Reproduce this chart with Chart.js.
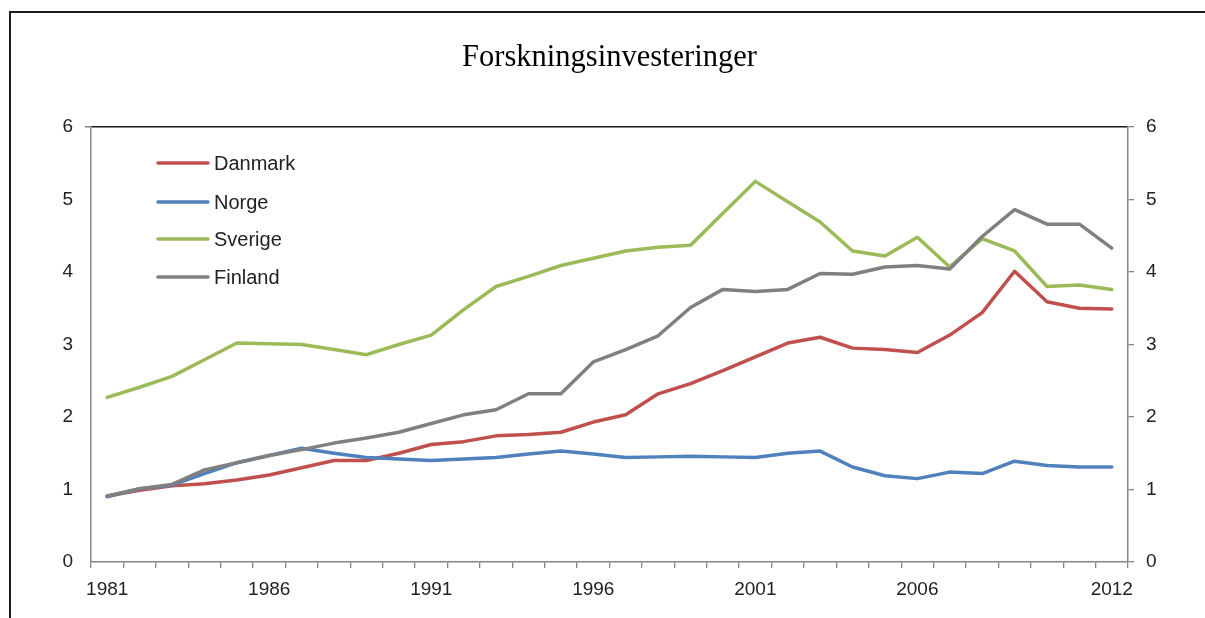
<!DOCTYPE html>
<html>
<head>
<meta charset="utf-8">
<script src="https://cdn.jsdelivr.net/npm/chart.js@4.4.0/dist/chart.umd.min.js"></script>
<style>
  body { margin: 0; background: #fff; }
  #wrap { position: relative; width: 1205px; height: 618px; }
  #frame { position: absolute; left: 9px; top: 11px; width: 1200px; height: 620px;
           border-top: 2px solid #1a1a1a; border-left: 2px solid #1a1a1a; }
  canvas { position: absolute; left: 0; top: 0; }
</style>
</head>
<body>
<div id="wrap">
  <div id="frame"></div>
  <canvas id="myChart" width="1205" height="618"></canvas>
</div>
<script>
// data
const years = [];
for (let y = 1981; y <= 2012; y++) years.push(String(y));
const shownYears = ['1981', '1986', '1991', '1996', '2001', '2006', '2012'];

const danmark = [0.91, 0.99, 1.05, 1.08, 1.13, 1.20, 1.30, 1.40, 1.40, 1.50,
                 1.62, 1.66, 1.74, 1.76, 1.79, 1.93, 2.03, 2.32, 2.46, 2.64,
                 2.83, 3.02, 3.10, 2.95, 2.93, 2.89, 3.13, 3.44, 4.01, 3.59,
                 3.50, 3.49];
const norge = [0.90, 1.01, 1.06, 1.22, 1.37, 1.47, 1.57, 1.50, 1.44, 1.42,
               1.40, 1.42, 1.44, 1.49, 1.53, 1.49, 1.44, 1.45, 1.46, 1.45,
               1.44, 1.50, 1.53, 1.31, 1.19, 1.15, 1.24, 1.22, 1.39, 1.33,
               1.31, 1.31];
const sverige = [2.27, 2.41, 2.56, 2.79, 3.02, 3.01, 3.00, 2.93, 2.86, 3.00,
                 3.13, 3.48, 3.80, 3.94, 4.09, 4.19, 4.29, 4.34, 4.37, 4.81,
                 5.25, 4.97, 4.69, 4.29, 4.22, 4.48, 4.07, 4.46, 4.29, 3.80,
                 3.82, 3.76];
const finland = [0.91, 1.01, 1.07, 1.27, 1.37, 1.47, 1.55, 1.64, 1.71, 1.79,
                 1.91, 2.03, 2.10, 2.32, 2.32, 2.76, 2.93, 3.12, 3.51, 3.76,
                 3.73, 3.76, 3.98, 3.97, 4.07, 4.09, 4.04, 4.49, 4.86, 4.66,
                 4.66, 4.33];
const yTicks = [0, 1, 2, 3, 4, 5, 6];

const axisGray = '#868686';
const textColor = '#222';

// legend drawn inside the plot area, Excel style
const insideLegend = {
  id: 'insideLegend',
  afterDatasetsDraw(chart) {
    const ctx = chart.ctx;
    const area = chart.chartArea;
    const x0 = area.left + 67;
    const rows = [36, 75, 112, 150];
    ctx.save();
    ctx.font = '20px "Liberation Sans", Arial, sans-serif';
    ctx.textBaseline = 'middle';
    ctx.lineCap = 'round';
    chart.data.datasets.forEach((ds, i) => {
      const y = area.top + rows[i];
      ctx.strokeStyle = ds.borderColor;
      ctx.lineWidth = 3.5;
      ctx.beginPath();
      ctx.moveTo(x0, y);
      ctx.lineTo(x0 + 50, y);
      ctx.stroke();
      ctx.fillStyle = textColor;
      ctx.fillText(ds.label, x0 + 56, y + 1);
    });
    ctx.restore();
  }
};

const data = {
  labels: years,
  datasets: [
    { label: 'Danmark', data: danmark, borderColor: '#C0504D', order: 3 },
    { label: 'Norge', data: norge, borderColor: '#4F81BD', order: 2 },
    { label: 'Sverige', data: sverige, borderColor: '#9BBB59', order: 1 },
    { label: 'Finland', data: finland, borderColor: '#808080', order: 0 }
  ].map(d => Object.assign(d, {
    borderWidth: 3.5,
    pointRadius: 0,
    tension: 0,
    borderJoinStyle: 'round',
    borderCapStyle: 'round',
    yAxisID: 'y'
  }))
};

const tickFont = { family: '"Liberation Sans", Arial, sans-serif', size: 19 };

const config = {
  type: 'line',
  data,
  options: {
    responsive: false,
    animation: false,
    layout: { padding: 0 },
    plugins: {
      legend: { display: false },
      tooltip: { enabled: false },
      title: {
        display: true,
        fullSize: false,
        text: 'Forskningsinvesteringer',
        color: '#000',
        font: { family: '"Liberation Serif", "Times New Roman", serif', size: 30.5, weight: 'normal', lineHeight: 1.2 },
        padding: { top: 40, bottom: 50.4 }
      }
    },
    scales: {
      x: {
        offset: true,
        grid: { display: true, offset: true, drawOnChartArea: false, tickLength: 6, color: axisGray, lineWidth: 1.3 },
        border: { display: true, color: axisGray, width: 1.5 },
        ticks: {
          autoSkip: false, maxRotation: 0, padding: 10, color: textColor, font: tickFont,
          callback: function (v, i) {
            const lab = this.getLabelForValue(v);
            return shownYears.includes(lab) ? lab : '';
          }
        },
        afterFit: s => { s.height = 56; }
      },
      y: {
        position: 'left',
        min: 0, max: 6,
        afterBuildTicks: s => { s.ticks = yTicks.map(v => ({ value: v })); },
        grid: {
          drawOnChartArea: true, tickLength: 6, tickColor: axisGray,
          color: c => (c.tick && c.tick.value === 6) ? '#1a1a1a' : 'rgba(0,0,0,0)',
          lineWidth: c => (c.tick && c.tick.value === 6) ? 1.5 : 0
        },
        border: { display: true, color: axisGray, width: 1.5 },
        ticks: { padding: 12, color: textColor, font: tickFont },
        afterFit: s => { s.width = 91; }
      },
      y2: {
        position: 'right',
        min: 0, max: 6,
        afterBuildTicks: s => { s.ticks = yTicks.map(v => ({ value: v })); },
        grid: { drawOnChartArea: false, tickLength: 6, color: axisGray, lineWidth: 1.3 },
        border: { display: true, color: axisGray, width: 1.5 },
        ticks: { padding: 12, color: textColor, font: tickFont },
        afterFit: s => { s.width = 77; }
      }
    }
  },
  plugins: [insideLegend]
};

const myChart = new Chart(document.getElementById('myChart'), config);
</script>
</body>
</html>
